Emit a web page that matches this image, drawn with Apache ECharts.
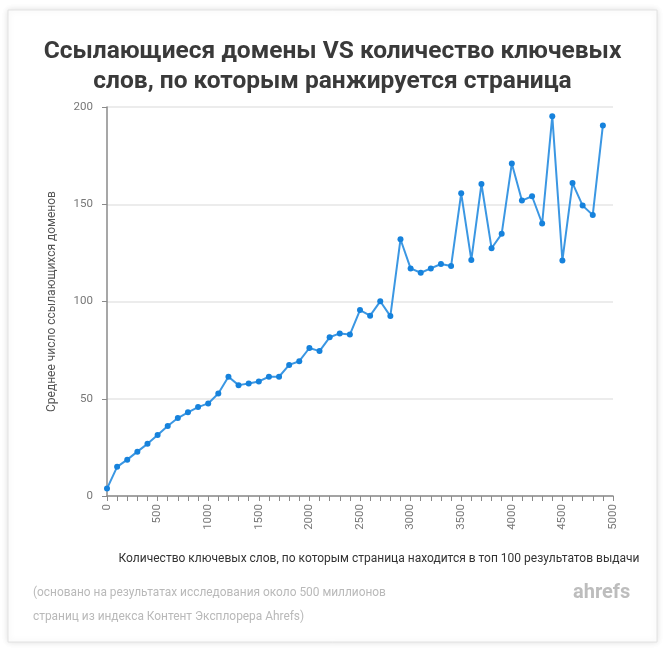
<!DOCTYPE html>
<html>
<head>
<meta charset="utf-8">
<script src="https://cdn.jsdelivr.net/npm/echarts@6/dist/echarts.min.js"></script>
<style>
  html, body { margin: 0; padding: 0; background: #fff; }
  #chart { width: 665px; height: 648px; }
</style>
</head>
<body>
<div id="chart"></div>
<script>
// количество ключевых слов (ось X)
const keywords = [0, 100, 200, 300, 400, 500, 600, 700, 800, 900,
  1000, 1100, 1200, 1300, 1400, 1500, 1600, 1700, 1800, 1900,
  2000, 2100, 2200, 2300, 2400, 2500, 2600, 2700, 2800, 2900,
  3000, 3100, 3200, 3300, 3400, 3500, 3600, 3700, 3800, 3900,
  4000, 4100, 4200, 4300, 4400, 4500, 4600, 4700, 4800, 4900]
// среднее число ссылающихся доменов
const domains = [3.8, 15, 18.7, 22.8, 26.8, 31.4, 36, 40.1, 43, 45.7,
  47.6, 52.7, 61.3, 57, 57.8, 58.9, 61.3, 61.3, 67.4, 69.3,
  76.1, 74.5, 81.6, 83.6, 83, 95.6, 92.7, 100.1, 92.5, 132,
  117, 114.8, 117, 119.3, 118.2, 155.6, 121.4, 160.4, 127.4, 134.8,
  170.9, 151.9, 154.1, 140.1, 195.3, 121.1, 160.9, 149.3, 144.5, 190.5]

const titleText = 'Ссылающиеся домены VS количество ключевых\nслов, по которым ранжируется страница'
const xName = 'Количество ключевых слов, по которым страница находится в топ 100 результатов выдачи'
const yName = 'Среднее число ссылающихся доменов'
const noteLines = [
  '(основано на результатах исследования около 500 миллионов',
  'страниц из индекса Контент Эксплорера Ahrefs)'
]

const font = 'Roboto, sans-serif'
const chart = echarts.init(document.getElementById('chart'), null, { renderer: 'canvas' })

const option = {
  backgroundColor: '#fff',
  animation: false,
  title: {
    text: titleText,
    left: 'center',
    top: 32,
    textStyle: {
      fontFamily: font,
      fontWeight: 'bold',
      fontSize: 24.5,
      lineHeight: 30,
      color: '#3a3a3a'
    }
  },
  graphic: [
    {
      type: 'rect',
      z: -1,
      shape: { x: 8, y: 10, width: 649, height: 632 },
      style: { fill: '#fff', stroke: '#e2e2e2', lineWidth: 1, shadowBlur: 6, shadowColor: 'rgba(0,0,0,0.12)' }
    },
    {
      type: 'text', left: 33, top: 587,
      style: { text: noteLines[0], fontFamily: font, fontSize: 11.9, fill: '#b9b9b9' }
    },
    {
      type: 'text', left: 33, top: 611,
      style: { text: noteLines[1], fontFamily: font, fontSize: 11.9, fill: '#b9b9b9' }
    },
    {
      type: 'text', left: 573, top: 583,
      style: { text: 'ahrefs', fontFamily: font, fontWeight: 'bold', fontSize: 20, fill: '#bdbdbd' }
    }
  ],
  grid: { left: 107, right: 52, top: 107, bottom: 152, containLabel: false },
  xAxis: {
    type: 'value',
    min: 0,
    max: 5000,
    interval: 100,
    name: xName,
    nameLocation: 'middle',
    nameGap: 57,
    nameTextStyle: { fontFamily: font, fontSize: 12, color: '#333', padding: [0, 0, 0, 38] },
    axisLine: { show: true, lineStyle: { color: '#8a8a8a', width: 1.5 } },
    axisTick: { show: true, length: 5, lineStyle: { color: '#8a8a8a' } },
    splitLine: { show: false },
    axisLabel: {
      rotate: 90,
      margin: 8,
      fontFamily: font,
      fontSize: 11.5,
      color: '#777',
      formatter: v => (v % 500 === 0 ? String(v) : '')
    }
  },
  yAxis: {
    type: 'value',
    min: 0,
    max: 200,
    interval: 50,
    name: yName,
    nameLocation: 'middle',
    nameGap: 49,
    nameRotate: 90,
    nameTextStyle: { fontFamily: font, fontSize: 12, color: '#555' },
    axisLine: { show: true, lineStyle: { color: '#8a8a8a', width: 1.5 } },
    axisTick: { show: true, length: 5, lineStyle: { color: '#8a8a8a' } },
    splitLine: { show: true, lineStyle: { color: '#e6e6e6', width: 1.5 } },
    axisLabel: { margin: 14, fontFamily: font, fontSize: 11.5, color: '#777' }
  },
  series: [{
    type: 'line',
    data: keywords.map((k, i) => [k, domains[i]]),
    symbol: 'circle',
    symbolSize: 6,
    lineStyle: { color: '#3b97e3', width: 2 },
    itemStyle: { color: '#1682dc' }
  }]
}

chart.setOption(option)
</script>
</body>
</html>
